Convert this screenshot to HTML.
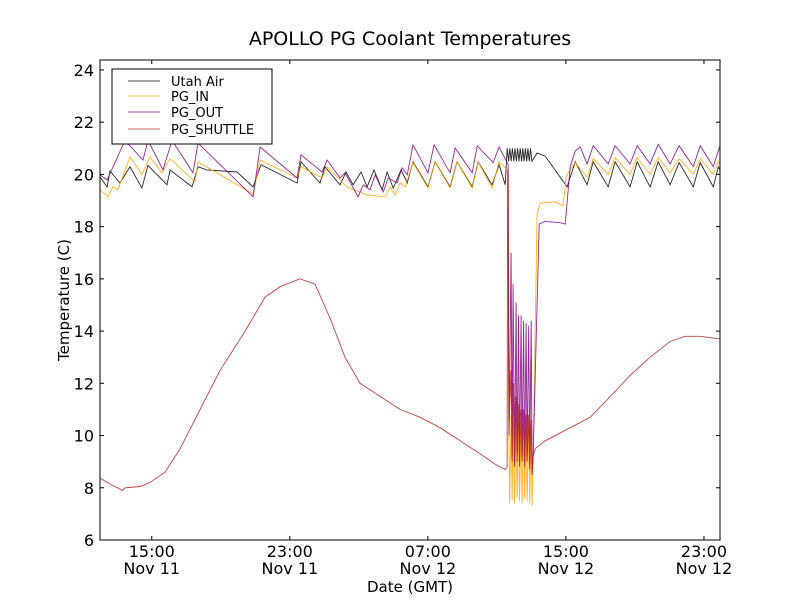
<!DOCTYPE html>
<html><head><meta charset="utf-8"><style>
body{margin:0;background:#fff;}
svg{display:block;font-family:"DejaVu Sans","Liberation Sans",sans-serif;}
</style></head><body>
<svg id="chart" width="800" height="600" viewBox="0 0 800 600">
<rect width="800" height="600" fill="#fff"/>
<text x="410" y="45" font-size="19" text-anchor="middle">APOLLO PG Coolant Temperatures</text>
<text x="410" y="592" font-size="15" text-anchor="middle">Date (GMT)</text>
<text transform="translate(69,300) rotate(-90)" font-size="15" text-anchor="middle">Temperature (C)</text>
<g id="series"></g>
<g id="axes"></g>
<g id="legend"></g>
</svg>
<script>
const xDomain = [12, 47.93];
const yDomain = [6, 24.38];
const yTicks = [6, 8, 10, 12, 14, 16, 18, 20, 22, 24];
const xTicks = [15, 23, 31, 39, 47];
const xTickTime = ["15:00", "23:00", "07:00", "15:00", "23:00"];
const xTickDate = ["Nov 11", "Nov 11", "Nov 12", "Nov 12", "Nov 12"];
const seriesNames = ["Utah Air", "PG_IN", "PG_OUT", "PG_SHUTTLE"];

const airT = [12.00,12.41,12.58,13.16,13.74,14.43,14.78,15.88,16.06,17.33,17.68,18.20,19.94,20.87,21.33,23.42,23.65,24.75,25.04,25.91,26.26,26.67,27.13,27.48,27.88,28.35,28.64,28.99,29.45,29.80,30.14,31.01,31.42,32.29,32.69,33.57,33.91,34.72,35.13,35.48,35.60,35.68,35.75,35.83,35.90,35.98,36.05,36.13,36.20,36.28,36.35,36.43,36.50,36.58,36.65,36.73,36.80,36.88,36.95,37.03,37.33,37.80,39.07,39.54,40.23,40.58,41.45,41.85,42.72,43.13,43.88,44.35,45.04,45.56,46.38,46.78,47.54,47.83,47.93];
const airV = [19.90,19.52,20.13,19.67,20.29,19.48,20.34,19.60,20.17,19.52,20.29,20.17,20.09,19.52,20.37,19.67,20.48,19.67,20.29,19.60,20.09,19.60,20.09,19.52,20.17,19.41,20.09,19.48,20.17,19.67,20.48,19.52,20.48,19.52,20.48,19.52,20.48,19.60,20.37,19.60,21.0,20.5,21.0,20.5,21.0,20.5,21.0,20.5,21.0,20.5,21.0,20.5,21.0,20.5,21.0,20.5,21.0,20.5,21.0,20.5,20.82,20.7,19.52,20.48,19.60,20.48,19.52,20.48,19.52,20.48,19.52,20.48,19.60,20.45,19.52,20.45,19.52,20.29,20.17];

const inT = [12.00,12.46,12.75,13.04,13.74,14.14,14.43,14.90,15.59,16.06,17.51,17.68,20.87,21.28,23.42,23.65,24.87,25.16,26.32,27.48,28.52,28.81,29.10,29.39,29.68,30.14,31.01,31.42,32.29,32.69,33.57,33.91,34.72,35.13,35.59,35.652,35.681,35.739,35.826,35.884,35.942,36.029,36.116,36.174,36.261,36.313,36.406,36.464,36.551,36.609,36.696,36.754,36.841,36.899,36.986,37.043,37.101,37.33,37.51,38.38,38.84,39.01,39.25,39.54,40.23,40.58,41.45,41.85,42.72,43.13,43.88,44.35,45.04,45.56,46.38,46.78,47.54,47.83,47.93];
const inV = [19.41,19.14,19.52,19.41,20.67,20.29,19.98,20.67,20.06,20.60,19.71,20.48,19.25,20.55,19.86,20.29,19.86,20.29,19.52,19.21,19.14,19.52,19.21,19.67,19.52,20.45,19.48,20.48,19.48,20.48,19.48,20.48,19.48,20.48,20.2,20.0,11.0,7.4,10.8,7.5,10.5,7.4,10.8,7.6,10.5,7.5,10.2,7.4,10.5,7.6,10.3,7.5,10.4,7.4,10.2,7.3,9.0,18.5,18.9,18.95,18.8,19.9,20.2,20.45,19.9,20.6,20.0,20.65,20.0,20.65,20.0,20.65,20.05,20.6,20.0,20.6,20.0,20.5,20.4];

const outT = [12.00,12.41,13.45,14.49,14.78,15.65,16.17,17.39,17.68,20.87,21.28,23.42,23.65,24.87,25.16,25.91,26.20,26.96,27.25,27.65,27.94,28.41,28.70,29.22,29.51,29.80,30.14,31.01,31.36,32.29,32.58,33.57,33.86,34.78,35.13,35.59,35.652,35.681,35.710,35.826,35.884,35.942,36.029,36.116,36.174,36.261,36.313,36.406,36.464,36.551,36.609,36.696,36.754,36.841,36.899,36.986,37.043,37.101,37.45,37.80,38.67,38.96,39.25,39.54,39.83,40.23,40.58,41.45,41.85,42.72,43.13,43.88,44.35,45.04,45.56,46.38,46.78,47.54,47.93];
const outV = [19.98,19.79,21.3,20.55,21.3,20.17,21.3,20.06,21.2,19.14,21.05,19.86,20.75,20.09,20.55,19.86,20.06,19.14,19.6,19.41,19.98,19.33,19.86,19.67,20.25,19.98,21.13,20.06,21.13,20.06,21.01,20.06,21.09,20.45,21.05,20.45,20.4,13.5,10.0,17.0,9.2,15.8,9.0,15.1,9.3,14.6,9.0,14.6,9.2,14.4,9.0,14.3,9.2,14.2,9.0,14.4,8.5,9.2,18.1,18.2,18.15,18.1,20.3,20.9,21.05,20.4,21.1,20.4,21.1,20.4,21.1,20.4,21.15,20.4,21.1,20.3,21.1,20.3,21.1];

const shT = [12.00,12.58,13.16,13.30,13.45,14.32,14.90,15.77,16.64,17.80,18.96,20.41,21.57,22.43,23.59,24.46,25.33,26.20,27.07,28.23,29.39,30.55,31.71,32.87,34.03,34.90,35.48,35.59,35.62,35.652,35.681,35.710,35.826,35.884,35.942,36.029,36.116,36.174,36.261,36.313,36.406,36.464,36.551,36.609,36.696,36.754,36.841,36.899,36.986,37.043,37.101,37.22,37.80,38.96,40.41,41.57,42.72,43.88,45.04,45.91,46.78,47.93];
const shV = [8.37,8.15,7.95,7.9,8.0,8.05,8.2,8.6,9.5,11.0,12.5,14.0,15.3,15.7,16.0,15.8,14.5,13.0,12.0,11.5,11.0,10.7,10.3,9.8,9.3,8.9,8.7,8.8,20.1,20.1,14.0,10.5,12.5,9.0,12.0,8.8,11.5,9.0,11.2,8.8,11.0,9.0,11.0,8.8,10.8,9.0,10.8,8.7,10.6,8.6,9.2,9.5,9.8,10.2,10.7,11.5,12.3,13.0,13.6,13.8,13.8,13.7];

const L = 100, R = 720, T = 60, B = 540;
function sx(h){ return L + (h - xDomain[0]) / (xDomain[1] - xDomain[0]) * (R - L); }
function sy(v){ return B - (v - yDomain[0]) / (yDomain[1] - yDomain[0]) * (B - T); }
const NS = "http://www.w3.org/2000/svg";
const sg = document.getElementById('series');
const ag = document.getElementById('axes');
const lg = document.getElementById('legend');

const seriesDefs = [
  [airT, airV, "#000000", "utah-air-line"],
  [inT, inV, "#ffa500", "pg-in-line"],
  [outT, outV, "#800080", "pg-out-line"],
  [shT, shV, "#b22222", "pg-shuttle-line"]
];
seriesDefs.forEach(function(s){
  const p = document.createElementNS(NS, 'polyline');
  p.setAttribute('points', s[0].map(function(t, i){ return sx(t).toFixed(1) + ',' + sy(s[1][i]).toFixed(1); }).join(' '));
  p.setAttribute('fill', 'none');
  p.setAttribute('stroke', s[2]);
  p.setAttribute('stroke-width', '0.9');
  p.setAttribute('stroke-opacity', '0.85');
  
  
  sg.appendChild(p);
});

const frame = document.createElementNS(NS, 'rect');
frame.setAttribute('x', L); frame.setAttribute('y', T);
frame.setAttribute('width', R - L); frame.setAttribute('height', B - T);
frame.setAttribute('fill', 'none'); frame.setAttribute('stroke', '#000'); frame.setAttribute('stroke-width', '1');


ag.appendChild(frame);

function line(x1, y1, x2, y2, name){
  const l = document.createElementNS(NS, 'line');
  l.setAttribute('x1', x1); l.setAttribute('y1', y1); l.setAttribute('x2', x2); l.setAttribute('y2', y2);
  l.setAttribute('stroke', '#000'); l.setAttribute('stroke-width', '1');
  
  
  ag.appendChild(l);
}
function text(x, y, str, anchor, size, name){
  const t = document.createElementNS(NS, 'text');
  t.setAttribute('x', x); t.setAttribute('y', y);
  t.setAttribute('text-anchor', anchor); t.setAttribute('font-size', size);
  t.textContent = str;
  
  
  return t;
}
yTicks.forEach(function(v){
  const y = sy(v);
  line(L, y, L + 4, y, 'y-tick');
  line(R, y, R - 4, y, 'y-tick-right');
  ag.appendChild(text(94, y + 6, String(v), 'end', 16, 'y-tick-label'));
});
xTicks.forEach(function(h, i){
  const x = sx(h);
  line(x, B, x, B - 4, 'x-tick');
  line(x, T, x, T + 4, 'x-tick-top');
  ag.appendChild(text(x, 557, xTickTime[i], 'middle', 16, 'x-tick-time-label'));
  ag.appendChild(text(x, 574, xTickDate[i], 'middle', 16, 'x-tick-date-label'));
});

const box = document.createElementNS(NS, 'rect');
box.setAttribute('x', 112); box.setAttribute('y', 69); box.setAttribute('width', 160); box.setAttribute('height', 75);
box.setAttribute('fill', '#fff'); box.setAttribute('stroke', '#000'); box.setAttribute('stroke-width', '1');


lg.appendChild(box);
const legendY = [81, 96, 112, 129];
seriesDefs.forEach(function(s, i){
  const l = document.createElementNS(NS, 'line');
  l.setAttribute('x1', 128); l.setAttribute('x2', 160);
  l.setAttribute('y1', legendY[i]); l.setAttribute('y2', legendY[i]);
  l.setAttribute('stroke', s[2]); l.setAttribute('stroke-width', '0.9'); l.setAttribute('stroke-opacity', '0.7');
  
  
  lg.appendChild(l);
  const t = text(171, legendY[i] + 5, seriesNames[i], 'start', 13, 'legend-entry');
  lg.appendChild(t);
});
</script>
</body></html>
